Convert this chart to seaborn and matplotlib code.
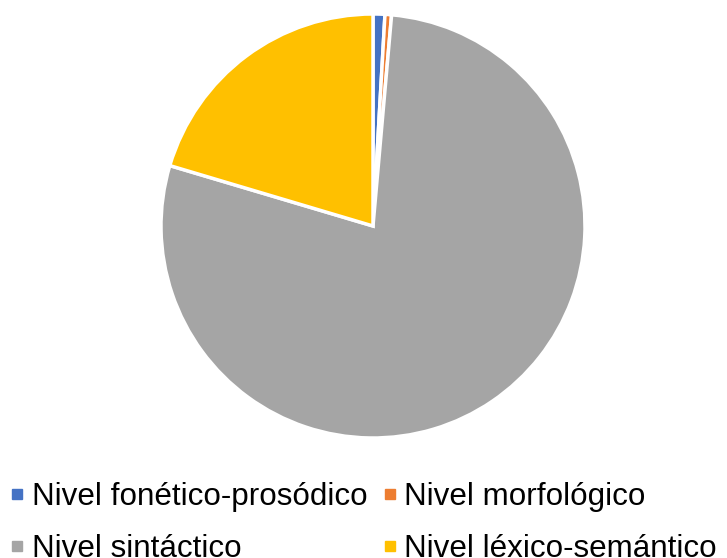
import matplotlib
matplotlib.use("Agg")
import matplotlib.pyplot as plt
from matplotlib.lines import Line2D
import seaborn as sns

categories = ["Nivel fonético-prosódico", "Nivel morfológico", "Nivel sintáctico", "Nivel léxico-semántico"]
values = [0.9, 0.5, 78.2, 20.4]
colors = ["#4472C4", "#ED7D31", "#A5A5A5", "#FFC000"]

sns.set_theme(style="white")
plt.rcParams["font.family"] = ["Liberation Sans", "DejaVu Sans"]

W, H = 727, 558
fig = plt.figure(figsize=(W / 100, H / 100), dpi=100)
cx, cy, r = 373, 226, 212
ax = fig.add_axes([(cx - r) / W, (H - cy - r) / H, 2 * r / W, 2 * r / H])
ax.pie(values, colors=colors, startangle=90, counterclock=False, radius=1.0,
       wedgeprops=dict(edgecolor="white", linewidth=2.5))
ax.set_xlim(-1, 1)
ax.set_ylim(-1, 1)
ax.set_aspect("equal")
ax.axis("off")

handles = [Line2D([0], [0], marker="s", linestyle="none", markersize=7.5,
                  markerfacecolor=c, markeredgecolor=c) for c in colors]
order = [0, 2, 1, 3]
fig.legend([handles[i] for i in order], [categories[i] for i in order],
           ncol=2, loc="upper left",
           bbox_to_anchor=(0.0, (H - 473) / H), frameon=False,
           fontsize=22.6, handlelength=0.5, handletextpad=0.22,
           columnspacing=0.45, labelspacing=0.7, borderpad=0.3,
           borderaxespad=0.0, labelcolor="black")

fig.savefig("out.png", dpi=100, facecolor="white")
